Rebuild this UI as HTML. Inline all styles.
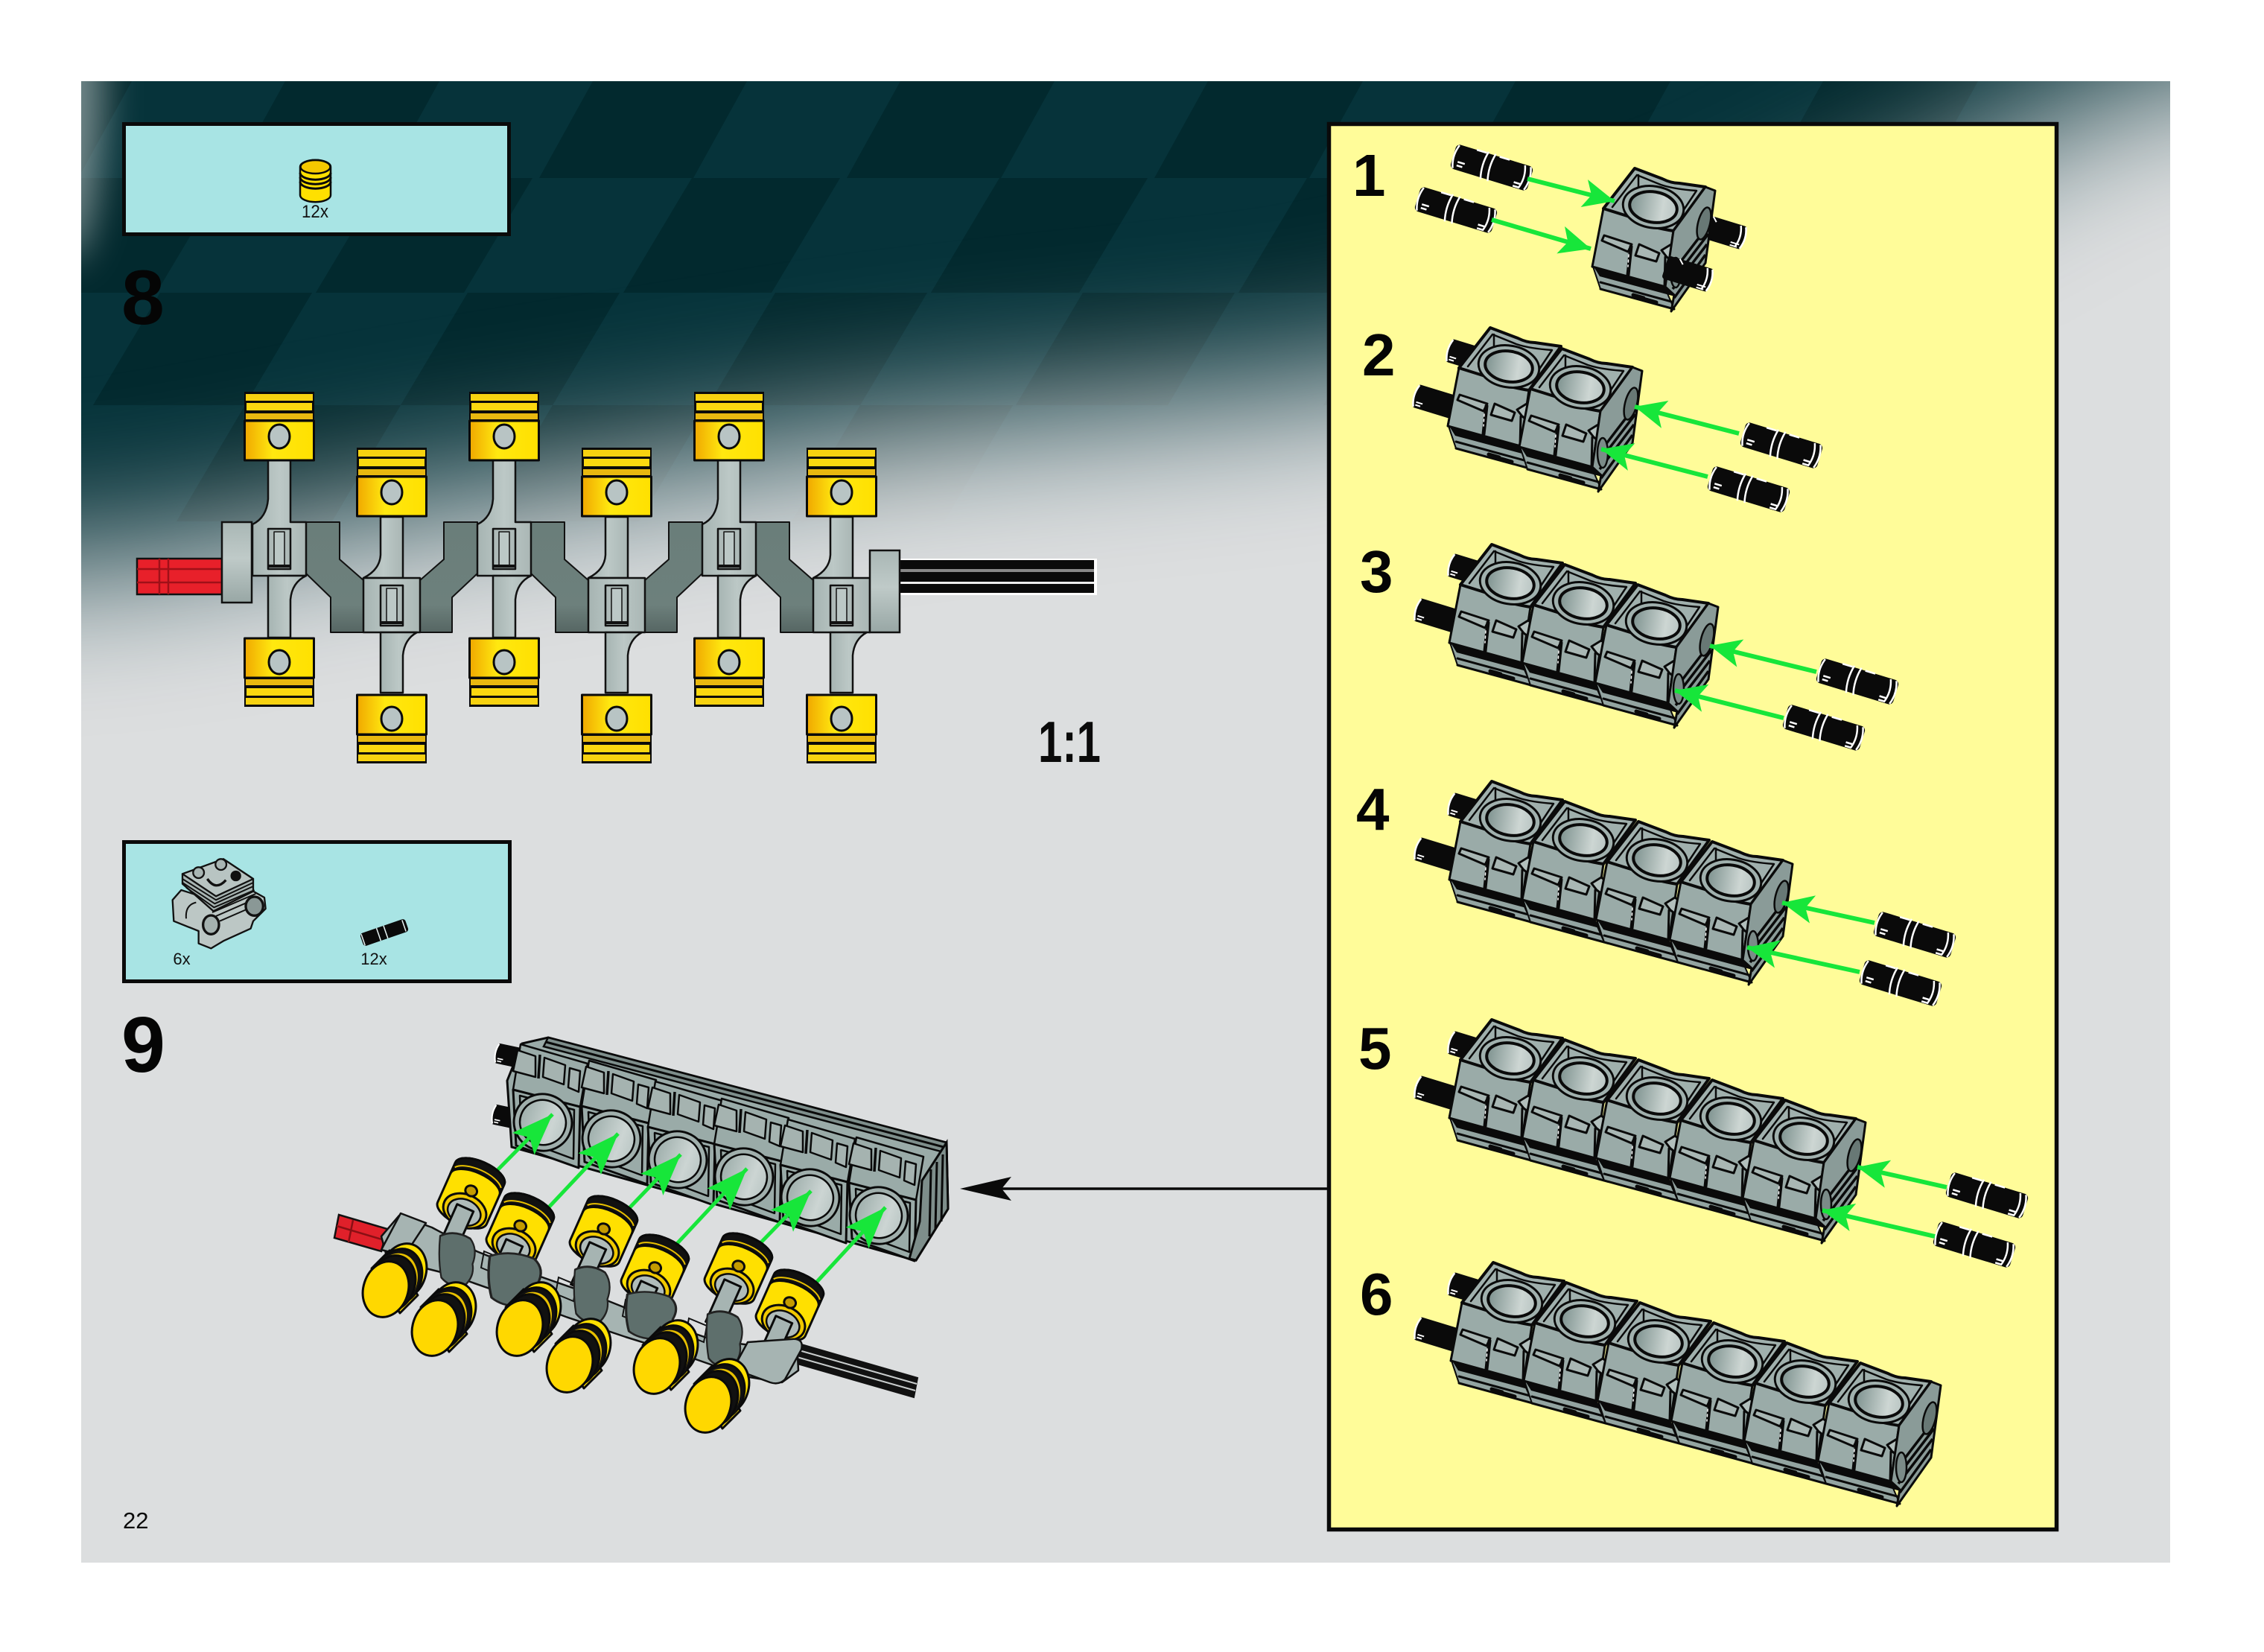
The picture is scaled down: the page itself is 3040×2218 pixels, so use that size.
<!DOCTYPE html>
<html><head><meta charset="utf-8"><title>Step 22</title>
<style>html,body{margin:0;padding:0;background:#fff;width:3040px;height:2218px;overflow:hidden}svg{display:block}text{font-family:"Liberation Sans",sans-serif}</style>
</head><body>
<svg xmlns="http://www.w3.org/2000/svg" width="3040" height="2218" viewBox="0 0 3040 2218" style="overflow:hidden">
<defs>
<clipPath id="pg"><rect x="109" y="109" width="2805" height="1989"/></clipPath>
<filter id="b75" filterUnits="userSpaceOnUse" x="-900" y="-600" width="4800" height="3400" color-interpolation-filters="sRGB"><feGaussianBlur stdDeviation="100"/></filter>
<filter id="b30" filterUnits="userSpaceOnUse" x="-100" y="-300" width="600" height="1000" color-interpolation-filters="sRGB"><feGaussianBlur stdDeviation="26"/></filter>
<linearGradient id="yl" x1="0" x2="1" y1="0" y2="0"><stop offset="0" stop-color="#f0a800"/><stop offset=".4" stop-color="#ffe810"/><stop offset="1" stop-color="#ffe000"/></linearGradient>
<linearGradient id="gr" x1="0" x2="1" y1="0" y2="0"><stop offset="0" stop-color="#a6b4b2"/><stop offset=".5" stop-color="#bcc8c6"/><stop offset="1" stop-color="#aab7b5"/></linearGradient>
<linearGradient id="grv" x1="0" x2="0" y1="0" y2="1"><stop offset="0" stop-color="#a9b7b5"/><stop offset=".45" stop-color="#bfcac8"/><stop offset="1" stop-color="#98a7a5"/></linearGradient>
<linearGradient id="dk" x1="0" x2="0" y1="0" y2="1"><stop offset="0" stop-color="#6a7e7a"/><stop offset=".75" stop-color="#6d807c"/><stop offset="1" stop-color="#566663"/></linearGradient>
<linearGradient id="hole" x1="0" x2="1" y1="0" y2="0"><stop offset="0" stop-color="#7f9390"/><stop offset=".7" stop-color="#cdd6d3"/><stop offset="1" stop-color="#b9c5c3"/></linearGradient>
<linearGradient id="hole2" x1="0" x2="1" y1="0" y2="0"><stop offset="0" stop-color="#a0b0ad"/><stop offset=".7" stop-color="#ccd5d3"/><stop offset="1" stop-color="#bcc8c6"/></linearGradient>
<marker id="ga" markerUnits="userSpaceOnUse" markerWidth="44" markerHeight="38" refX="42" refY="19" orient="auto"><path d="M42,19 L0,0 L10,19 L0,38 Z" fill="#17e63a"/></marker>
<marker id="ga2" markerUnits="userSpaceOnUse" markerWidth="58" markerHeight="42" refX="56" refY="21" orient="auto"><path d="M56,21 L0,0 L12,21 L0,42 Z" fill="#17e63a"/></marker>

<g id="pin" transform="rotate(17)">
<rect x="-54" y="-17" width="108" height="34" rx="6" fill="#0a0a0a"/>
<path d="M-50,-16 Q-56,0 -50,16 M-10,-19 Q-15,0 -10,19 M0,-19 Q-5,0 0,19 M50,-16 Q56,0 50,16 M42,-16 Q48,0 42,16" fill="none" stroke="#fff" stroke-width="2.500"/>
<path d="M-46,6 h10 M-46,11 h8 M-26,-17 h14 M6,-17 h14 M34,10 h10 M34,15 h8" stroke="#fff" stroke-width="2.500"/>
</g>
<g id="stub" transform="rotate(17)">
<rect x="-24" y="-16" width="64" height="32" rx="4" fill="#0a0a0a"/>
<path d="M-22,-15 Q-28,0 -22,15" fill="none" stroke="#fff" stroke-width="2.500"/><path d="M-20,8 h9 M-20,12 h7" stroke="#fff" stroke-width="2"/>
</g>
<g id="rstub" transform="rotate(17)">
<rect x="-40" y="-16" width="64" height="32" rx="4" fill="#0a0a0a"/>
<path d="M22,-15 Q28,0 22,15 M15,-15 Q21,0 15,15" fill="none" stroke="#fff" stroke-width="2.500"/><path d="M8,10 h12 M8,14 h10 M-24,-16 l6,6" stroke="#fff" stroke-width="2"/>
</g>
<g id="unit" stroke="#0a0a0a" stroke-linejoin="round" stroke-linecap="round">
<path d="M-82,77 L15,107 L28,137 L-71,110 Z" fill="#93a4a1" stroke-width="2"/>
<path d="M-82,77 L15,107 L29,120 L-72,93 Z" fill="#0a0a0a" stroke="none"/>
<path d="M-71,101 L28,128 M-71,110 L28,137" stroke-width="3" fill="none"/>
<path d="M-27,118 l14,4 M-10,124 l14,4" stroke-width="5"/>
<polygon points="-67,2 27,32 16,107 -82,80" fill="#9aaba8" stroke-width="3"/>
<path d="M-25,-52 L12,-38 Q24,-32 35,-32 L70,-27 L27,32 Q14,30 -2,26 Q-18,16 -35,12 L-67,2 Z" fill="#a0b0ad" stroke-width="4"/>
<path d="M-22,-43 L-55,0 M-20,-43 L-20,-23 M-22,-43 L10,-30 Q28,-24 58,-22 L30,20" fill="none" stroke-width="2.500"/>
<ellipse cx="0" cy="0" rx="41" ry="28" transform="rotate(9)" fill="#a0b0ad" stroke-width="3"/>
<ellipse cx="0" cy="0" rx="32" ry="20.500" transform="rotate(9)" fill="url(#hole)" stroke-width="4"/>
<path d="M-66,38 L-29,50 L-34,60 L-69,45 Z" fill="#a9b7b4" stroke-width="3"/>
<path d="M-19,50 L8,62 L4,73 L-24,65 Z" fill="#a9b7b4" stroke-width="3"/>
<path d="M11,58 L24,50 L34,57 L26,73 L18,67 Z" fill="#b2bfbc" stroke-width="3"/>
<path d="M-30,53 L-34,91" fill="none" stroke-width="5"/>
<path d="M-33,64 L-34,80" fill="none" stroke="#fff" stroke-width="1.500" stroke-dasharray="3 4"/>
<path d="M16,67 L15,107" fill="none" stroke-width="3"/>
</g>
<g id="endf" stroke="#0a0a0a" stroke-linejoin="round">
<polygon points="70,-27 83,-22 70,75 24,140 28,118 16,107 27,32" fill="#8a9b98" stroke-width="3"/>
<path d="M76,22 L30,82 M74,36 L28,96 M72,50 L26,110 M70,64 L28,122" fill="none" stroke-width="3.500"/>
<ellipse cx="68" cy="22" rx="8" ry="22" transform="rotate(14 68 22)" fill="#687875" stroke-width="2.500"/>
<ellipse cx="30" cy="88" rx="7" ry="20" fill="#7b8b88" stroke-width="2.500"/>
</g>
<g id="bu" stroke="#0a0a0a" stroke-linejoin="round">
<polygon points="-28,-100 62,-74 52,-16 -38,-39" fill="#9aaba8" stroke-width="2.500"/>
<polygon points="-38,-39 52,-16 50,66 -34,36" fill="#9aaba8" stroke-width="3"/>
<polygon points="-29,-31 44,-12 43,54 -27,28" fill="none" stroke-width="2.500"/>
<ellipse cx="2" cy="5" rx="39" ry="38" transform="rotate(20 2 5)" fill="#a0afac" stroke-width="3"/>
<ellipse cx="2" cy="5" rx="31" ry="30" transform="rotate(20 2 5)" fill="url(#hole2)" stroke-width="2.500"/>
<polygon points="-32,-92 -8,-84 -8,-56 -38,-64" fill="#a5b3b0" stroke-width="2.500"/>
<polygon points="4,-82 32,-72 30,-46 2,-56" fill="#a5b3b0" stroke-width="2.500"/>
<polygon points="38,-68 52,-64 50,-36 36,-42" fill="#a5b3b0" stroke-width="2.500"/>
<path d="M-2,-86 L-4,-54" fill="none" stroke-width="3.500"/>
</g>
<g id="pu">
<rect x="-47" y="0" width="94" height="40" fill="#0a0a0a"/>
<rect x="-45" y="3" width="90" height="9" fill="#f7d210"/><rect x="-44" y="15" width="88" height="10" fill="#fbd810"/><rect x="-45" y="29" width="90" height="8" fill="#e8b810"/>
<rect x="-46.500" y="39" width="93" height="53" fill="url(#yl)" stroke="#0a0a0a" stroke-width="3"/>
<ellipse cx="0" cy="60" rx="14" ry="16" fill="#b8c4c4" stroke="#0a0a0a" stroke-width="3"/>
</g>
<g id="wa" stroke="#111" stroke-width="2" stroke-linejoin="round"><polygon points="411,701 456,701 456,751 488,779 488,849 444,849 444,802 411,770" fill="url(#dk)"/></g>
<g id="wb" stroke="#111" stroke-width="2" stroke-linejoin="round"><polygon points="641,701 596,701 596,751 564,779 564,849 607,849 607,802 641,770" fill="url(#dk)"/></g>
<g id="p8" stroke="#111" stroke-width="2.500" stroke-linejoin="round">
<path d="M360,618 H390 V701 H411 V773 H339 V704 Q358,695 360,670 Z" fill="url(#gr)"/>
<path d="M360,856 V773 H411 Q392,782 390,805 V856 Z" fill="url(#gr)"/>
<rect x="360" y="710" width="30" height="54" fill="#aebab8"/><rect x="368" y="714" width="14" height="46" fill="#bcc8c6" stroke-width="1.500"/><path d="M360,760 H390" stroke-width="4"/>
<path d="M511,694 H541 V776 H488 Q510,765 511,745 Z" fill="url(#gr)"/>
<path d="M488,776 H564 V849 H488 Z" fill="url(#gr)"/>
<path d="M511,930 V849 H560 Q543,858 541,880 V930 Z" fill="url(#gr)"/>
<rect x="511" y="786" width="30" height="54" fill="#aebab8"/><rect x="519" y="790" width="14" height="46" fill="#bcc8c6" stroke-width="1.500"/><path d="M511,836 H541" stroke-width="4"/>
<g stroke="none">
<use href="#pu" transform="translate(375,526)"/>
<use href="#pu" transform="translate(375,949) scale(1,-1)"/>
<use href="#pu" transform="translate(526,601)"/>
<use href="#pu" transform="translate(526,1025) scale(1,-1)"/>
</g>
</g>
<g id="upist" stroke="#0a0a0a" stroke-width="3" stroke-linejoin="round">
<g transform="rotate(24)">
<path d="M-36,-30 A36,16 0 0 1 36,-30 L36,28 A36,16 0 0 1 -36,28 Z" fill="#ffe000"/>
<path d="M-36,-30 A36,16 0 0 1 36,-30 L36,-14 A36,16 0 0 0 -36,-14 Z" fill="#111"/>
<path d="M-34,-24 A36,16 0 0 1 34,-24" fill="none" stroke="#e8c000" stroke-width="2"/>
<ellipse cx="2" cy="24" rx="30" ry="22" fill="#f0c800"/>
<ellipse cx="2" cy="26" rx="23" ry="17" fill="#b0bcba" stroke-width="2.500"/>
<rect x="-11" y="20" width="24" height="62" fill="#a6b4b2"/>
<ellipse cx="-1" cy="-4" rx="8" ry="7" fill="#c49b00"/>
</g>
</g>
<g id="lpist" stroke="#0a0a0a" stroke-width="3" stroke-linejoin="round">
<polygon points="-19,-28 5,-52 43,8 19,32" fill="#ffe000"/>
<ellipse cx="24" cy="-24" rx="30" ry="38" transform="rotate(18 24 -24)" fill="#ffe000"/>
<ellipse cx="22" cy="-47" rx="7" ry="6" fill="#c49b00"/>
<ellipse cx="18" cy="-17" rx="30" ry="38" transform="rotate(18 18 -17)" fill="#111"/>
<ellipse cx="13" cy="-12" rx="30" ry="38" transform="rotate(18 13 -12)" fill="#e8c000" stroke="#111" stroke-width="2"/>
<ellipse cx="9" cy="-8" rx="30" ry="38" transform="rotate(18 9 -8)" fill="#111"/>
<ellipse cx="0" cy="0" rx="30" ry="38" transform="rotate(18)" fill="#ffd800"/>
</g>
<g id="web" stroke="#222" stroke-width="3" stroke-linejoin="round">
<path d="M-32,-34 Q-6,-44 22,-30 Q36,-14 26,8 Q30,26 12,40 Q-14,44 -30,28 Q-36,0 -32,-34 Z" fill="#5e6f6c"/>
</g>
</defs>

<rect x="0" y="0" width="3040" height="2218" fill="#fff"/>
<g clip-path="url(#pg)">
<rect x="109" y="109" width="2805" height="1989" fill="#06333a"/>
<g fill="#02292e">
<path d="M109,109 H177 L105,239 H109 Z"/><path d="M383,109 H590 L518,239 H311 Z"/><path d="M796,109 H1003 L931,239 H724 Z"/><path d="M1209,109 H1416 L1344,239 H1137 Z"/><path d="M1622,109 H1830 L1758,239 H1550 Z"/><path d="M2035,109 H2243 L2171,239 H1963 Z"/><path d="M2448,109 H2656 L2584,239 H2376 Z"/>
<path d="M109,239 H302 L210,393 H109 Z"/><path d="M516,239 H715 L623,393 H424 Z"/><path d="M929,239 H1128 L1036,393 H837 Z"/><path d="M1342,239 H1541 L1449,393 H1250 Z"/><path d="M1755,239 H1954 L1862,393 H1663 Z"/><path d="M2168,239 H2367 L2275,393 H2076 Z"/>
<path d="M215,393 H419 L329,544 H125 Z"/><path d="M628,393 H832 L742,544 H538 Z"/><path d="M1041,393 H1245 L1155,544 H951 Z"/><path d="M1454,393 H1658 L1568,544 H1364 Z"/><path d="M1867,393 H2071 L1981,544 H1777 Z"/>
<path d="M329,544 H538 L446,700 H237 Z"/><path d="M742,544 H950 L858,700 H650 Z"/><path d="M1155,544 H1360 L1268,700 H1063 Z"/>
</g>
<path d="M-700,770 L150,750 L530,678 L1200,572 L1780,512 L2300,390 L2650,215 L2800,125 L3600,-100 L3600,2218 L-700,2218 Z" fill="#dcdedf" filter="url(#b75)"/>
<rect x="109" y="1320" width="2805" height="778" fill="#dcdedf"/>
<ellipse cx="90" cy="110" rx="48" ry="240" fill="#b8c2c2" opacity=".65" filter="url(#b30)"/>
</g>

<!-- step 8 box -->
<rect x="166.500" y="166.500" width="517" height="148" fill="#a8e4e4" stroke="#0a0a0a" stroke-width="5"/>
<g stroke="#0a0a0a" stroke-width="2.500">
<path d="M403,224 A20,9 0 0 1 444,224 V262 A20,9 0 0 1 403,262 Z" fill="#ffe000"/>
<ellipse cx="423.500" cy="224" rx="20" ry="9" fill="#f5c800"/>
<path d="M403,232 A20,9 0 0 0 444,232 M403,238 A20,9 0 0 0 444,238 M403,244 A20,9 0 0 0 444,244" fill="none" stroke-width="3"/>
</g>
<text x="423" y="292" font-size="24" text-anchor="middle" fill="#111" textLength="36" lengthAdjust="spacingAndGlyphs">12x</text>

<text x="163" y="435" font-size="104" font-weight="700" fill="#050505">8</text>

<!-- step 8 crank -->
<rect x="184" y="750" width="114" height="48" fill="#e8202a" stroke="#111" stroke-width="2.500"/>
<path d="M214,750 v48 M226,750 v48 M184,764 H298 M184,782 H298" stroke="#a01018" stroke-width="2.500"/>
<rect x="1208" y="750" width="265" height="49" fill="#fff"/>
<rect x="1208" y="752" width="261" height="44" fill="#0a0a0a"/>
<rect x="1208" y="764" width="261" height="4" fill="#888"/><rect x="1208" y="781" width="261" height="3" fill="#eee"/>
<use href="#wa"/><use href="#wb"/><use href="#wa" transform="translate(302,0)"/><use href="#wb" transform="translate(302,0)"/><use href="#wa" transform="translate(604,0)"/>
<use href="#p8"/><use href="#p8" transform="translate(302,0)"/><use href="#p8" transform="translate(604,0)"/>
<rect x="298" y="701" width="40" height="108" fill="url(#grv)" stroke="#111" stroke-width="2.500"/>
<rect x="1168" y="739" width="40" height="110" fill="url(#grv)" stroke="#111" stroke-width="2.500"/>
<text x="1394" y="1023" font-size="78" font-weight="700" fill="#0a0a0a" textLength="84" lengthAdjust="spacingAndGlyphs">1:1</text>

<!-- step 9 box -->
<rect x="166.500" y="1130.500" width="518" height="187" fill="#a8e4e4" stroke="#0a0a0a" stroke-width="5"/>
<g transform="translate(200,1140) scale(.3333)" stroke="#111" stroke-width="7" stroke-linejoin="round" fill="#b4c0be">
<path d="M95,205 L130,165 L240,200 L420,170 L465,195 L470,240 L420,290 L410,320 L300,370 L250,400 L200,380 L200,330 L100,290 Z" fill="#bcc7c5"/>
<path d="M135,100 L300,40 L420,120 L420,170 L260,250 L135,140 Z" fill="#a8b5b3"/>
<path d="M135,100 L300,40 L420,120 L270,190 Z" fill="#b8c4c2"/>
<path d="M135,120 L270,205 L420,135 M135,135 L265,220 L420,150 M150,155 L262,235 L425,165 M255,255 L430,180 M270,270 L430,200 M285,290 L400,240" fill="none" stroke-width="6"/>
<circle cx="200" cy="95" r="22" fill="#a8b5b3"/><circle cx="290" cy="62" r="22" fill="#a8b5b3"/><circle cx="350" cy="108" r="18" fill="#111"/>
<path d="M235,120 Q270,170 310,125" fill="none" stroke-width="10"/>
<ellipse cx="250" cy="305" rx="32" ry="38" fill="#a4b1af" stroke-width="10"/>
<ellipse cx="425" cy="230" rx="35" ry="38" fill="#8a9896" stroke-width="10"/>
<path d="M150,280 Q145,225 190,215" fill="none" stroke-width="6"/>
</g>
<text x="244" y="1295" font-size="22" text-anchor="middle" fill="#111">6x</text>
<g transform="translate(516,1252) rotate(-19)"><rect x="-32" y="-9" width="64" height="18" rx="4" fill="#0a0a0a"/><path d="M-30,-8 v16 M-8,-9 v18 M2,-9 v18 M28,-8 v16" stroke="#e8f4f4" stroke-width="1.500"/></g>
<text x="502" y="1295" font-size="22" text-anchor="middle" fill="#111">12x</text>

<text x="163" y="1439" font-size="106" font-weight="700" fill="#050505">9</text>

<!-- step 9 assembly: block -->
<use href="#stub" transform="translate(686,1418) rotate(-5) scale(.85)"/>
<use href="#stub" transform="translate(682,1500) rotate(-5) scale(.85)"/>
<polygon points="736,1393 1271,1534 1273,1623 1230,1692 1221,1690 687,1540 681,1451 701,1401" fill="#9aaba8" stroke="#0a0a0a" stroke-width="3"/>
<polygon points="736,1393 1271,1534 1271,1548 730,1405" fill="#7e8e8b" stroke="#0a0a0a" stroke-width="2.500"/>
<path d="M733,1399 L1271,1541" stroke="#0a0a0a" stroke-width="3"/>
<use href="#bu" x="727" y="1502"/><use href="#bu" x="819" y="1524"/><use href="#bu" x="908" y="1552"/><use href="#bu" x="997" y="1575"/><use href="#bu" x="1086" y="1603"/><use href="#bu" x="1178" y="1627"/>
<polygon points="1238,1585 1271,1534 1273,1623 1230,1692 1221,1690 1235,1640" fill="#7e8e8b" stroke="#0a0a0a" stroke-width="3"/>
<path d="M1250,1570 L1248,1660 M1258,1560 L1256,1650 M1266,1550 L1264,1640" stroke="#0a0a0a" stroke-width="3"/>
<!-- arrows -->
<g stroke="#17e63a" stroke-width="5" fill="none">
<path d="M664,1575 L742,1496" marker-end="url(#ga2)"/><path d="M733,1625 L830,1522" marker-end="url(#ga2)"/><path d="M842,1625 L914,1550" marker-end="url(#ga2)"/><path d="M905,1674 L1003,1569" marker-end="url(#ga2)"/><path d="M1020,1670 L1089,1599" marker-end="url(#ga2)"/><path d="M1095,1723 L1189,1621" marker-end="url(#ga2)"/>
</g>
<!-- red and black axle -->
<polygon points="455,1631 520,1650 512,1680 449,1662" fill="#e0202a" stroke="#111" stroke-width="2.500"/>
<path d="M452,1646 L516,1665 M474,1638 L468,1668" stroke="#8a0f14" stroke-width="2.500"/>
<polygon points="1069,1803 1232,1850 1227,1876 1060,1828" fill="#111" stroke="#111" stroke-width="2"/>
<path d="M1066,1811 L1231,1858 M1063,1820 L1229,1867" stroke="#c8cccc" stroke-width="2"/>
<!-- upper pistons -->
<use href="#upist" x="632" y="1603"/><use href="#upist" x="698" y="1650"/><use href="#upist" x="810" y="1654"/><use href="#upist" x="879" y="1706"/><use href="#upist" x="991" y="1704"/><use href="#upist" x="1060" y="1753"/>
<!-- crank -->
<g stroke="#111" stroke-width="2.500" stroke-linejoin="round">
<path d="M536,1632 L580,1648 L640,1680 L720,1712 L800,1740 L880,1772 L960,1800 L1040,1810 L1070,1800 L1072,1840 L1050,1856 L1000,1848 L920,1820 L840,1795 L760,1768 L680,1738 L600,1710 L520,1690 L512,1660 Z" fill="#a6b4b2"/>
<polygon points="538,1629 572,1642 543,1686 512,1678" fill="#a6b4b2"/>
</g>
<g fill="none" stroke="#111" stroke-width="2"><path d="M650,1680 l24,10 l-4,22 l-24,-10 Z M750,1715 l24,10 l-4,22 l-24,-10 Z M840,1745 l24,10 l-4,22 l-24,-10 Z M925,1770 l24,10 l-4,22 l-24,-10 Z"/></g>
<use href="#web" transform="translate(615,1690) scale(.75,.9)"/><use href="#web" transform="translate(693,1717) scale(1.1,.9)"/><use href="#web" transform="translate(796,1737) scale(.75,.95)"/><use href="#web" transform="translate(876,1765) scale(1.05,.8)"/><use href="#web" transform="translate(974,1797) scale(.75,.95)"/>
<path d="M1062,1798 Q1080,1796 1076,1812 L1054,1852 Q1046,1860 1034,1856 L996,1842 Q986,1836 992,1824 L1004,1802 Z" fill="#a6b4b2" stroke="#111" stroke-width="2.500" stroke-linejoin="round"/>
<!-- lower pistons -->
<use href="#lpist" x="518" y="1731"/><use href="#lpist" x="584" y="1783"/><use href="#lpist" x="698" y="1783"/><use href="#lpist" x="765" y="1832"/><use href="#lpist" x="882" y="1834"/><use href="#lpist" x="951" y="1886"/>

<!-- big arrow -->
<path d="M1785,1596 H1340" stroke="#0a0a0a" stroke-width="3.500"/>
<path d="M1289,1596 L1358,1580 L1345,1596 L1358,1612 Z" fill="#0a0a0a"/>

<text x="165" y="2052" font-size="31" fill="#0a0a0a">22</text>

<!-- yellow panel -->
<rect x="1784.500" y="166.500" width="977" height="1887" fill="#fffc99" stroke="#0a0a0a" stroke-width="5.500"/>
<g font-size="80" font-weight="700" fill="#050505">
<text x="1816" y="263">1</text><text x="1829" y="504">2</text><text x="1826" y="795">3</text><text x="1821" y="1114">4</text><text x="1824" y="1435">5</text><text x="1826" y="1765">6</text>
</g>

<!-- sub 1 -->
<use href="#pin" x="2003" y="225"/><use href="#pin" x="1955" y="282"/>
<use href="#rstub" x="2319" y="313"/>
<use href="#unit" x="2220" y="278"/><use href="#endf" x="2220" y="278"/>
<use href="#rstub" x="2274" y="370"/>
<g stroke="#17e63a" stroke-width="6" fill="none"><path d="M2051,240 L2168,270" marker-end="url(#ga)"/><path d="M2003,295 L2136,334" marker-end="url(#ga)"/></g>

<!-- sub 2 -->
<use href="#stub" x="1968" y="477"/><use href="#stub" x="1923" y="538"/>
<use href="#unit" x="2026" y="492"/><use href="#unit" x="2122" y="520"/><use href="#endf" x="2122" y="520"/>
<use href="#pin" x="2392" y="598"/><use href="#pin" x="2348" y="657"/>
<g stroke="#17e63a" stroke-width="6" fill="none"><path d="M2335,582 L2195,546" marker-end="url(#ga)"/><path d="M2293,640 L2150,603" marker-end="url(#ga)"/></g>

<!-- sub 3 -->
<use href="#stub" x="1970" y="765"/><use href="#stub" x="1925" y="825"/>
<use href="#unit" x="2028" y="783"/><use href="#unit" x="2126" y="810"/><use href="#unit" x="2224" y="837"/><use href="#endf" x="2224" y="837"/>
<use href="#pin" x="2494" y="915"/><use href="#pin" x="2449" y="977"/>
<g stroke="#17e63a" stroke-width="6" fill="none"><path d="M2439,902 L2296,867" marker-end="url(#ga)"/><path d="M2395,964 L2249,927" marker-end="url(#ga)"/></g>

<!-- sub 4 -->
<use href="#stub" x="1970" y="1086"/><use href="#stub" x="1925" y="1146"/>
<use href="#unit" x="2028" y="1101"/><use href="#unit" x="2126" y="1128"/><use href="#unit" x="2225" y="1155"/><use href="#unit" x="2324" y="1182"/><use href="#endf" x="2324" y="1182"/>
<use href="#pin" x="2571" y="1255"/><use href="#pin" x="2552" y="1320"/>
<g stroke="#17e63a" stroke-width="6" fill="none"><path d="M2517,1239 L2393,1212" marker-end="url(#ga)"/><path d="M2497,1305 L2346,1272" marker-end="url(#ga)"/></g>

<!-- sub 5 -->
<use href="#stub" x="1970" y="1406"/><use href="#stub" x="1925" y="1466"/>
<use href="#unit" x="2028" y="1421"/><use href="#unit" x="2126" y="1448"/><use href="#unit" x="2225" y="1475"/><use href="#unit" x="2324" y="1502"/><use href="#unit" x="2422" y="1529"/><use href="#endf" x="2422" y="1529"/>
<use href="#pin" x="2668" y="1605"/><use href="#pin" x="2651" y="1671"/>
<g stroke="#17e63a" stroke-width="6" fill="none"><path d="M2614,1594 L2494,1567" marker-end="url(#ga)"/><path d="M2598,1660 L2447,1625" marker-end="url(#ga)"/></g>

<!-- sub 6 -->
<use href="#stub" x="1970" y="1730"/><use href="#stub" x="1925" y="1790"/>
<use href="#unit" x="2030" y="1747"/><use href="#unit" x="2128" y="1774"/><use href="#unit" x="2227" y="1801"/><use href="#unit" x="2326" y="1828"/><use href="#unit" x="2424" y="1855"/><use href="#unit" x="2523" y="1882"/><use href="#endf" x="2523" y="1882"/>
</svg>
</body></html>
